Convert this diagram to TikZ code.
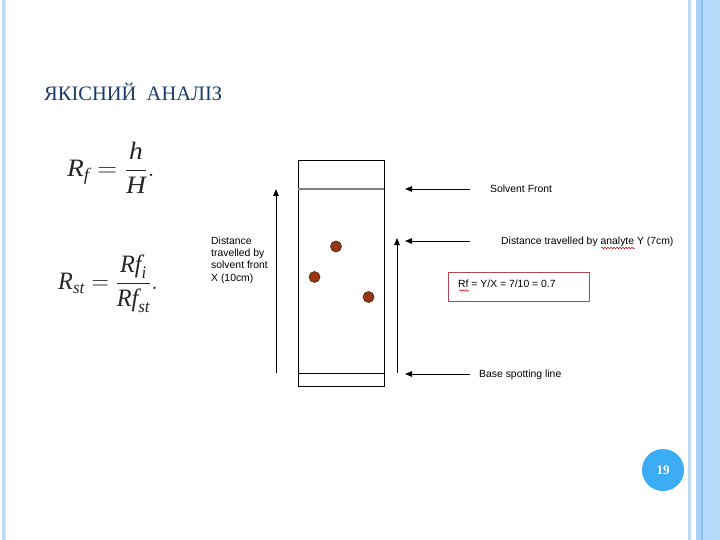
\documentclass[tikz,border=0pt]{standalone}
\usepackage{amsmath}
\usepackage{graphicx}
\usepackage{fontspec}
\setmainfont{Liberation Serif}
\newfontfamily\arial{Liberation Sans}
\usetikzlibrary{arrows.meta,decorations.pathmorphing}
\definecolor{titleblue}{RGB}{28,58,108}
\definecolor{stripeA}{RGB}{190,218,244}
\definecolor{stripeB}{RGB}{170,210,246}
\definecolor{stripeC}{RGB}{140,192,236}
\definecolor{stripeD}{RGB}{180,218,250}
\definecolor{pagecirc}{RGB}{60,172,244}
\definecolor{spot}{RGB}{150,55,20}
\definecolor{spotedge}{RGB}{80,30,10}
\definecolor{boxred}{RGB}{180,70,85}
\tikzset{
  lbl/.style={font=\arial\fontsize{10.4}{12}\selectfont, inner sep=0pt, anchor=base west},
  ptr/.style={draw=black, line width=0.9pt, -{Triangle[length=7pt,width=5.5pt]}},
  dotspot/.style={circle, fill=spot, draw=spotedge, line width=0.6pt, minimum size=11pt, inner sep=0pt},
  squiggle/.style={draw=red!80!black, line width=0.5pt, decorate, decoration={snake, amplitude=0.8pt, segment length=3pt}},
  formula/.style={inner sep=0pt, text=black!85, font=\fontsize{25}{30}\selectfont}
}
\begin{document}
\begin{tikzpicture}[x=1pt,y=-1pt]
\useasboundingbox (0,0) rectangle (720,540);
\fill[white] (0,0) rectangle (720,540);
% side stripes
\fill[stripeA] (2,0) rectangle (4.5,540);
\fill[stripeA!60] (5,0) rectangle (6,540);
\fill[stripeA] (688,0) rectangle (691,540);
\fill[stripeB] (696,0) rectangle (701,540);
\fill[stripeC] (701,0) rectangle (703,540);
\fill[stripeD] (703,0) rectangle (720,540);
% title
\node[anchor=base west, inner sep=0pt, text=titleblue, font=\fontsize{20.5}{24}\selectfont] (title) at (44,101) {ЯКІСНИЙ\ \ АНАЛІЗ};
% formulas
\node[formula, anchor=west] (f1) at (67,168) {\scalebox{1.1}[1]{$\displaystyle\textit{R}_{\textit{f}}=\frac{\textit{h}}{\textit{H}}.$}};
\node[formula, anchor=west] (f2) at (58,284) {\scalebox{0.97}[1]{$\displaystyle\textit{R}_{\textit{st}}=\frac{\textit{Rf}_{\textit{i}}}{\textit{Rf}_{\textit{st}}}.$}};
% plate
\draw[line width=0.9pt] (298,160) rectangle (384,386);
\node[inner sep=0pt] (plate) at (341,273) {};
\draw[gray, line width=1.8pt] (298,189) -- (384,189);
\draw[line width=0.9pt] (298,373) -- (384,373);
% spots
\node[dotspot] (s1) at (336,246.5) {};
\node[dotspot] (s2) at (314.5,277) {};
\node[dotspot] (s3) at (368.5,297) {};
% vertical arrows
\coordinate (vxa) at (276,373); \coordinate (vxb) at (276,189);
\draw[ptr] (vxa) -- (vxb);
\coordinate (vya) at (397,373); \coordinate (vyb) at (397,238);
\draw[ptr] (vya) -- (vyb);
% left label
\node[lbl] (xl1) at (211,244.5) {Distance};
\node[lbl] (xl2) at (211,256.6) {travelled by};
\node[lbl] (xl3) at (211,268.7) {solvent front};
\node[lbl] (xl4) at (211,281) {X (10cm)};
% horizontal pointers
\coordinate (h1a) at (470,189); \coordinate (h1b) at (405,189);
\coordinate (h2a) at (470,241); \coordinate (h2b) at (405,241);
\coordinate (h3a) at (470,374); \coordinate (h3b) at (405,374);
\draw[ptr] (h1a) -- (h1b);
\draw[ptr] (h2a) -- (h2b);
\draw[ptr] (h3a) -- (h3b);
\node[lbl] (sf) at (490,192.5) {Solvent Front};
\node[lbl] (dy) at (501,244.5) {Distance travelled by analyte Y (7cm)};
\node[lbl] (bs) at (479,377.5) {Base spotting line};
% result box
\draw[boxred, line width=0.9pt] (448,272) rectangle (589,301);
\node[lbl] (rf) at (458,287.5) {Rf = Y/X = 7/10 = 0.7};
\draw[squiggle] (459,290.5) -- (469,290.5);
\draw[squiggle] (601,248) -- (635,248);
% page number
\node[circle, fill=pagecirc, minimum size=42pt, inner sep=0pt, text=white, font=\bfseries\fontsize{13}{15}\selectfont] (pg) at (663,470) {19};
\end{tikzpicture}
\end{document}
